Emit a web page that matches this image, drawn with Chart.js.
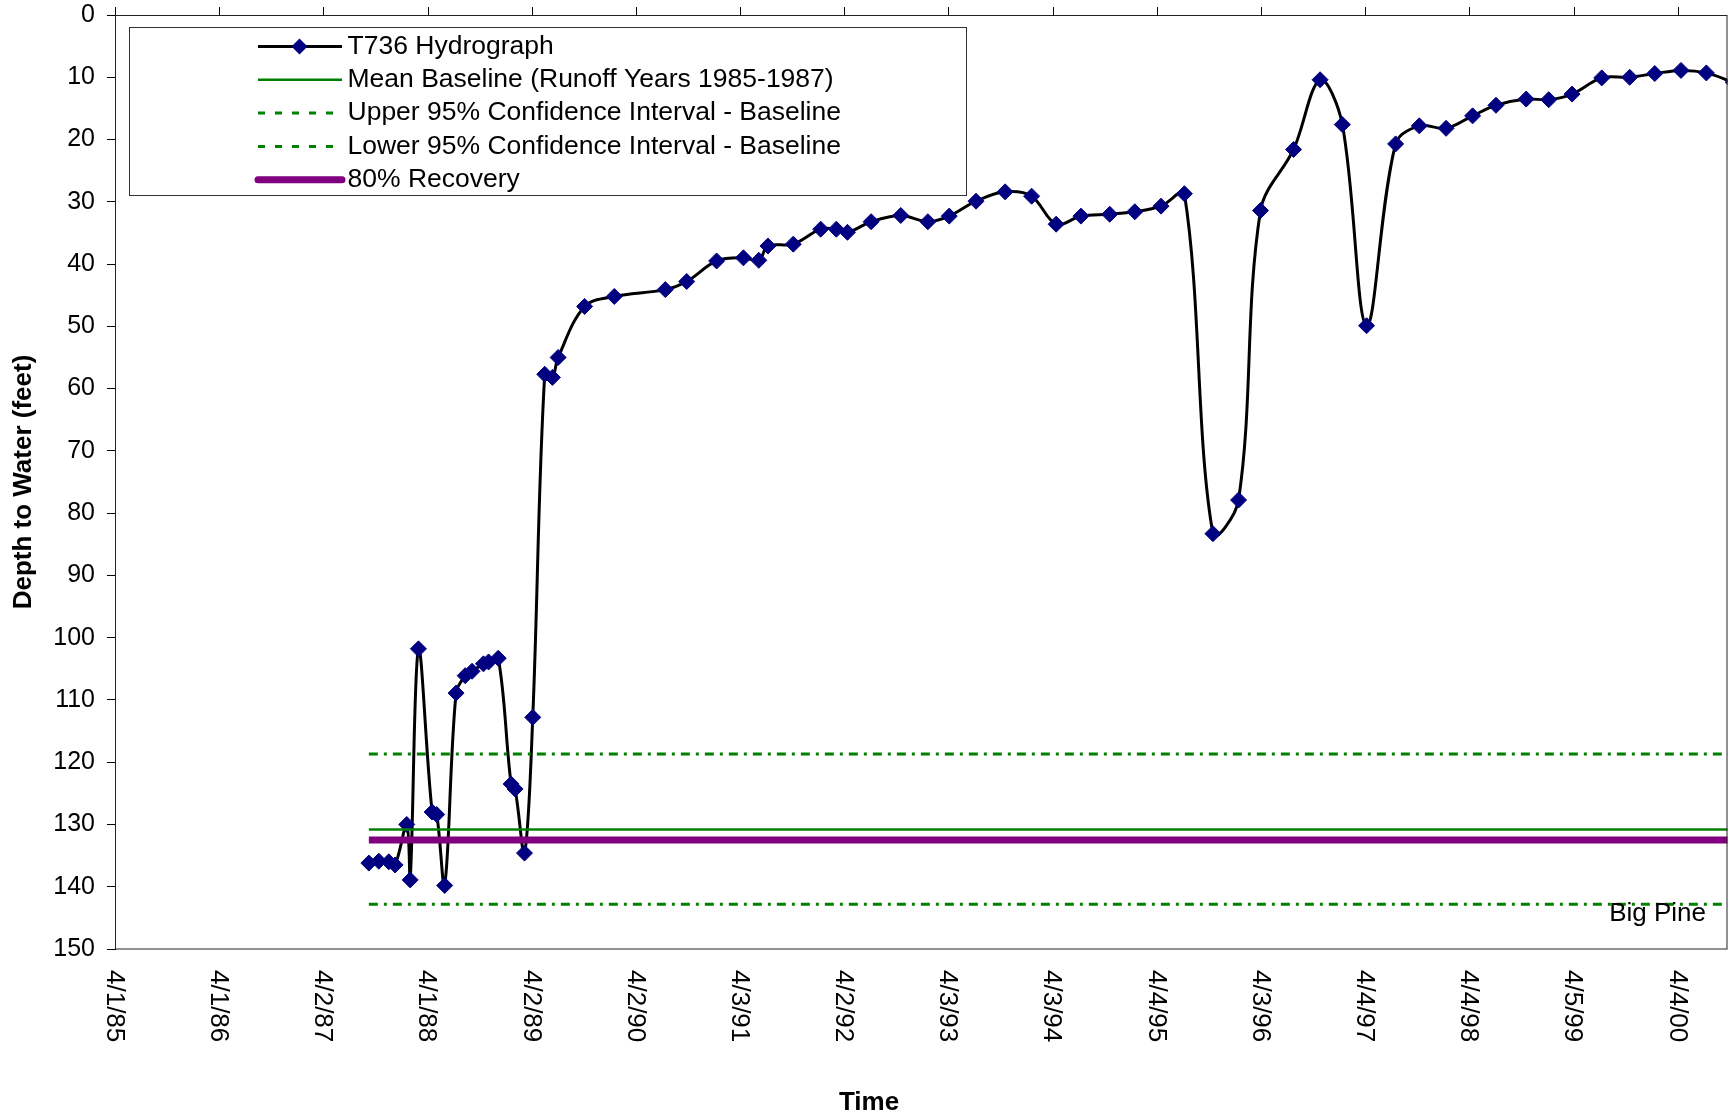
<!DOCTYPE html>
<html>
<head>
<meta charset="utf-8">
<title>T736 Hydrograph - Big Pine</title>
<script src="https://cdn.jsdelivr.net/npm/chart.js@4.4.1/dist/chart.umd.min.js"></script>
<style>
    html, body { margin: 0; padding: 0; background: #fff; }
    #contenedor { width: 1732px; height: 1118px; }
</style>
</head>
<body>
<div id="contenedor"><canvas id="chartT736" width="1732" height="1118"></canvas></div>
<script>
// Fechas de medición del pozo T736
const fechasT736 = [
    '1987-09-09', '1987-10-14', '1987-11-18', '1987-12-10', '1988-01-20', '1988-02-01',
    '1988-03-01', '1988-04-18', '1988-05-04', '1988-06-01', '1988-07-11', '1988-08-12',
    '1988-09-05', '1988-10-15', '1988-11-02', '1988-12-06', '1989-01-20', '1989-02-03',
    '1989-03-08', '1989-04-06', '1989-05-18', '1989-06-14', '1989-07-04', '1989-10-05',
    '1990-01-17', '1990-07-15', '1990-09-28', '1991-01-11', '1991-04-15', '1991-06-08',
    '1991-07-10', '1991-10-07', '1992-01-11', '1992-03-06', '1992-04-14', '1992-07-06',
    '1992-10-18', '1993-01-21', '1993-04-06', '1993-07-09', '1993-10-19', '1994-01-20',
    '1994-04-16', '1994-07-12', '1994-10-21', '1995-01-17', '1995-04-19', '1995-07-10',
    '1995-10-18', '1996-01-16', '1996-04-02', '1996-07-27', '1996-10-28', '1997-01-14',
    '1997-04-09', '1997-07-20', '1997-10-11', '1998-01-13', '1998-04-16', '1998-07-07',
    '1998-10-21', '1999-01-08', '1999-03-31', '1999-07-13', '1999-10-19', '2000-01-15',
    '2000-04-16', '2000-07-14', '2000-10-16'
];

// Profundidad al agua (pies)
const profundidadT736 = [
    136.2, 135.9, 136.0, 136.5, 130.0, 138.9,
    101.8, 128.0, 128.4, 139.8, 108.9, 106.1,
    105.4, 104.2, 103.9, 103.3, 123.5, 124.3,
    134.6, 112.8, 57.7, 58.2, 55.0, 46.8,
    45.2, 44.1, 42.8, 39.5, 39.0, 39.4,
    37.1, 36.8, 34.4, 34.4, 34.9, 33.2,
    32.2, 33.2, 32.3, 29.9, 28.4, 29.1,
    33.6, 32.3, 32.0, 31.6, 30.7, 28.7,
    83.3, 77.9, 31.4, 21.6, 10.4, 17.6,
    49.9, 20.7, 17.8, 18.2, 16.2, 14.5,
    13.5, 13.6, 12.7, 10.1, 10.0, 9.4,
    8.9, 9.3, 10.8
];

// Líneas horizontales de referencia (desde la primera medición hasta el final)
const fechasLineas = ['1987-09-09', '2000-10-16'];
const mediaBaseline = 130.8;
const superiorIC = 118.7;
const inferiorIC = 142.8;
const recuperacion80 = 132.5;

// Etiquetas del eje X (cada ~365.47 días desde 4/1/85)
const etiquetasX = ['4/1/85', '4/1/86', '4/2/87', '4/1/88', '4/2/89', '4/2/90', '4/3/91', '4/2/92',
    '4/3/93', '4/3/94', '4/4/95', '4/3/96', '4/4/97', '4/4/98', '4/5/99', '4/4/00'];
const inicioEjeX = 0.5;
const pasoEjeX = 365.47;
const finEjeX = 5657.2;

const etiquetasY = [0, 10, 20, 30, 40, 50, 60, 70, 80, 90, 100, 110, 120, 130, 140, 150];

const FUENTE = '"Liberation Sans", Arial, sans-serif';

// días desde 1985-04-01
function diasDesde(fecha) {
    const [a, m, d] = fecha.split('-').map(Number);
    return (Date.UTC(a, m - 1, d) - Date.UTC(1985, 3, 1)) / 86400000;
};

function lineaConstante(valor) {
    return fechasLineas.map(f => ({ x: diasDesde(f), y: valor }));
};

const puntosT736 = fechasT736.map((f, i) => ({ x: diasDesde(f), y: profundidadT736[i] }));

const datasets = [
    {
        label: 'T736 Hydrograph',
        data: puntosT736,
        borderColor: '#000000',
        borderWidth: 3,
        tension: 0.35,
        capBezierPoints: false,
        pointStyle: 'rectRot',
        pointRadius: 8,
        pointBackgroundColor: '#000080',
        pointBorderColor: '#000080',
        pointBorderWidth: 1,
        order: 5
    },
    {
        label: 'Mean Baseline (Runoff Years 1985-1987)',
        data: lineaConstante(mediaBaseline),
        borderColor: '#008000',
        borderWidth: 2.5,
        pointRadius: 0,
        order: 4
    },
    {
        label: 'Upper 95% Confidence Interval - Baseline',
        data: lineaConstante(superiorIC),
        borderColor: '#008000',
        borderWidth: 3,
        borderDash: [9, 6, 3, 6],
        pointRadius: 0,
        order: 3
    },
    {
        label: 'Lower 95% Confidence Interval - Baseline',
        data: lineaConstante(inferiorIC),
        borderColor: '#008000',
        borderWidth: 3,
        borderDash: [9, 6, 3, 6],
        pointRadius: 0,
        order: 2
    },
    {
        label: '80% Recovery',
        data: lineaConstante(recuperacion80),
        borderColor: '#800080',
        borderWidth: 7,
        pointRadius: 0,
        order: 1
    }
];

// Dibuja marco, marcas superiores, etiquetas giradas, títulos y leyenda estilo Excel
const marcoPlugin = {
    id: 'marcoExcel',
    afterDraw(chart) {
        const { ctx, chartArea } = chart;
        const { left, top, right, bottom } = chartArea;
        const escalaX = chart.scales.x;
        ctx.save();

        // marco del área de trazado
        ctx.strokeStyle = '#222';
        ctx.lineWidth = 1;
        ctx.strokeRect(left + 0.5, top + 0.5, right - left - 1, bottom - top - 0.5);

        // marcas del eje X (arriba, hacia afuera)
        ctx.strokeStyle = '#000';
        etiquetasX.forEach((txt, i) => {
            const px = Math.round(escalaX.getPixelForValue(inicioEjeX + i * pasoEjeX)) + 0.5;
            ctx.beginPath();
            ctx.moveTo(px, top);
            ctx.lineTo(px, top - 8);
            ctx.stroke();
        });

        // etiquetas del eje X giradas 90°
        ctx.fillStyle = '#000';
        ctx.font = `26px ${FUENTE}`;
        ctx.textAlign = 'left';
        ctx.textBaseline = 'middle';
        etiquetasX.forEach((txt, i) => {
            const px = escalaX.getPixelForValue(inicioEjeX + i * pasoEjeX);
            ctx.save();
            ctx.translate(px - 1, 970);
            ctx.rotate(Math.PI / 2);
            ctx.fillText(txt, 0, 0);
            ctx.restore();
        });

        // título del eje X
        ctx.font = `bold 26px ${FUENTE}`;
        ctx.textAlign = 'center';
        ctx.fillText('Time', 869, 1103);

        // rótulo del sitio
        ctx.font = `26px ${FUENTE}`;
        ctx.textAlign = 'right';
        ctx.fillText('Big Pine', 1706, 914);

        // leyenda
        const lx = 129.5, ly = 27.5, lw = 837, lh = 168;
        ctx.fillStyle = '#fff';
        ctx.fillRect(lx, ly, lw, lh);
        ctx.strokeStyle = '#333';
        ctx.lineWidth = 1;
        ctx.strokeRect(lx, ly, lw, lh);

        ctx.font = `26.5px ${FUENTE}`;
        ctx.textAlign = 'left';
        ctx.textBaseline = 'middle';
        chart.data.datasets.forEach((ds, i) => {
            const fy = 46.5 + i * 33.3;
            ctx.save();
            ctx.strokeStyle = ds.borderColor;
            ctx.lineWidth = ds.borderWidth;
            if (ds.borderDash) {
                ctx.setLineDash([7, 10]);
            }
            if (ds.borderWidth > 5) {
                ctx.lineCap = 'round';
            }
            ctx.beginPath();
            ctx.moveTo(258, fy);
            ctx.lineTo(342, fy);
            ctx.stroke();
            ctx.restore();
            if (ds.pointRadius > 0) {
                const r = ds.pointRadius;
                ctx.fillStyle = ds.pointBackgroundColor;
                ctx.beginPath();
                ctx.moveTo(299.5 - r, fy);
                ctx.lineTo(299.5, fy - r);
                ctx.lineTo(299.5 + r, fy);
                ctx.lineTo(299.5, fy + r);
                ctx.closePath();
                ctx.fill();
            }
            ctx.fillStyle = '#000';
            ctx.fillText(ds.label, 347.5, fy);
        });

        ctx.restore();
    }
};

const config = {
    type: 'line',
    data: { datasets: datasets },
    options: {
        responsive: false,
        animation: false,
        devicePixelRatio: 1,
        layout: { autoPadding: false, padding: { top: 15, right: 4.5, left: 0, bottom: 0 } },
        plugins: {
            legend: { display: false },
            tooltip: { enabled: false }
        },
        scales: {
            x: {
                type: 'linear',
                min: inicioEjeX,
                max: finEjeX,
                afterBuildTicks: (escala) => {
                    escala.ticks = etiquetasX.map((t, i) => ({ value: inicioEjeX + i * pasoEjeX }));
                },
                ticks: { display: false },
                grid: { display: false },
                border: { display: false },
                afterFit: (escala) => {
                    escala.height = 169;
                    escala.paddingLeft = 0;
                    escala.paddingRight = 0;
                }
            },
            y: {
                reverse: true,
                min: 0,
                max: 150,
                afterBuildTicks: (escala) => {
                    escala.ticks = etiquetasY.map(v => ({ value: v }));
                },
                ticks: {
                    color: '#000',
                    padding: 12,
                    font: { family: FUENTE, size: 25 }
                },
                grid: {
                    drawOnChartArea: false,
                    tickLength: 8,
                    tickColor: '#000',
                    tickWidth: 1
                },
                border: { display: true, color: '#000', width: 1 },
                title: {
                    display: true,
                    text: 'Depth to Water (feet)',
                    color: '#000',
                    font: { family: FUENTE, size: 26, weight: 'bold' },
                    padding: { top: 8, bottom: 0 }
                },
                afterFit: (escala) => {
                    escala.width = 115;
                    escala.paddingTop = 0;
                    escala.paddingBottom = 0;
                }
            }
        }
    },
    plugins: [marcoPlugin]
};

const ctx = document.getElementById('chartT736').getContext('2d');
const chartInstance = new Chart(ctx, config);
</script>
</body>
</html>
